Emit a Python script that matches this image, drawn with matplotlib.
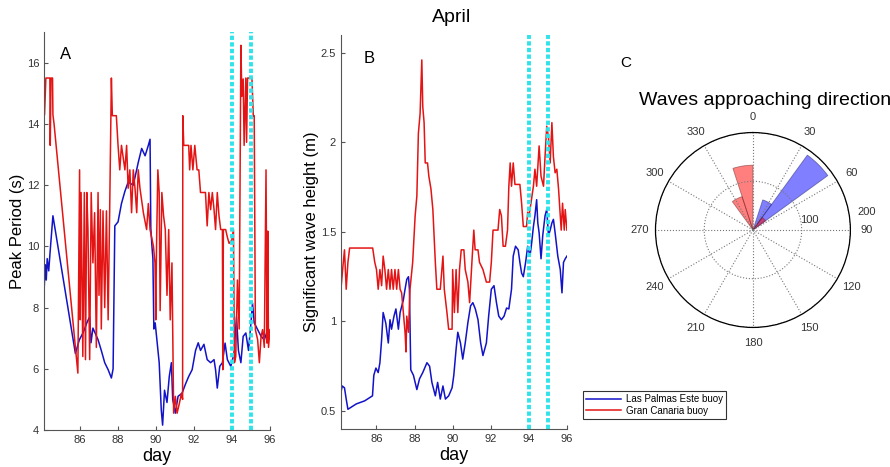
import numpy as np
import matplotlib
matplotlib.use("Agg")
import matplotlib.pyplot as plt

plt.rcParams['font.family'] = ['Liberation Sans', 'DejaVu Sans']

# ---- panel A: peak period (s) ----
tp_day_lp = [84.14, 84.2, 84.25, 84.3, 84.38, 84.45, 84.55, 84.6, 85.78, 85.99, 86.2, 86.38, 86.53, 86.6,
             86.7, 86.97, 87.14, 87.32, 87.5, 87.67, 87.76, 87.85, 88.02, 88.2, 88.38, 88.55, 88.82, 89.08,
             89.26, 89.44, 89.61, 89.7, 89.74, 89.8, 89.85, 89.9, 89.97, 90.18, 90.29, 90.36, 90.46, 90.59,
             90.71, 90.82, 90.89, 91.03, 91.17, 91.38, 91.56, 91.73, 91.91, 92.09, 92.23, 92.35, 92.53, 92.7,
             92.88, 93.06, 93.14, 93.23, 93.36, 93.5, 93.64, 93.76, 93.94, 94.11, 94.24, 94.34, 94.47, 94.59,
             94.73, 94.87, 95.0, 95.08, 95.17, 95.35, 95.53, 95.7, 95.88, 96.0]
tp_lp = [8.6, 9.4, 8.9, 9.6, 9.2, 9.8, 10.6, 11.0, 6.5, 6.95, 7.2, 7.5, 7.7, 6.85,
         7.33, 6.95, 6.6, 6.2, 5.97, 5.7, 6.0, 10.67, 10.8, 11.4, 11.8, 12.1, 12.0, 12.74,
         13.2, 12.96, 13.3, 13.5, 10.6, 10.0, 9.6, 7.3, 7.5, 6.2, 4.65, 4.16, 5.3, 4.9,
         5.75, 6.2, 5.0, 4.55, 5.1, 5.2, 5.5, 5.75, 5.97, 6.6, 6.85, 6.6, 6.8, 6.3,
         6.2, 6.3, 5.97, 5.37, 6.08, 6.2, 6.84, 6.3, 6.08, 6.5, 7.7, 6.6, 6.2, 7.06,
         7.17, 6.6, 7.5, 8.15, 7.5, 7.28, 7.06, 6.95, 7.28, 7.17]

tp_day_gc = [84.09, 84.1, 84.16, 84.23, 84.3, 84.44, 84.46, 84.5, 84.58, 84.6, 84.66, 85.91, 86.0, 86.03,
             86.08, 86.17, 86.25, 86.31, 86.38, 86.44, 86.53, 86.61, 86.7, 86.79, 86.88, 86.97, 87.02, 87.09,
             87.14, 87.23, 87.32, 87.41, 87.5, 87.58, 87.67, 87.72, 87.93, 88.02, 88.11, 88.2, 88.38, 88.47,
             88.55, 88.64, 88.73, 88.82, 88.91, 89.0, 89.08, 89.17, 89.35, 89.52, 89.61, 89.7, 89.88, 89.96,
             90.0, 90.04, 90.11, 90.18, 90.23, 90.32, 90.41, 90.5, 90.59, 90.68, 90.76, 90.85, 90.94, 91.03,
             91.12, 91.24, 91.35, 91.41, 91.42, 91.47, 91.73, 91.78, 91.85, 91.95, 92.05, 92.17, 92.26, 92.35,
             92.61, 92.7, 92.79, 92.88, 92.97, 93.06, 93.14, 93.23, 93.32, 93.41, 93.5, 93.52, 93.55, 93.67,
             93.76, 93.85, 93.99, 94.08, 94.13, 94.2, 94.29, 94.38, 94.47, 94.52, 94.59, 94.64, 94.73, 94.77,
             94.82, 95.05, 95.12, 95.17, 95.23, 95.35, 95.44, 95.53, 95.61, 95.7, 95.79, 95.84, 95.88, 95.92,
             96.0]
tp_gc = [8.4, 14.3, 14.3, 15.5, 15.5, 15.5, 13.3, 15.5, 15.5, 14.3, 14.0, 5.86, 12.5, 7.6,
         11.76, 6.4, 11.76, 6.3, 11.76, 10.55, 6.3, 11.76, 9.46, 11.1, 6.7, 11.76, 8.4, 11.2,
         7.3, 11.16, 8.0, 11.16, 7.6, 11.16, 15.5, 14.27, 14.27, 13.3, 12.5, 13.3, 12.5, 13.3,
         11.9, 12.5, 11.1, 12.5, 11.9, 11.1, 12.5, 11.9, 11.1, 10.55, 11.4, 10.55, 10.0, 9.46,
         7.6, 10.0, 12.5, 11.76, 7.9, 11.76, 11.0, 10.55, 8.4, 10.55, 7.6, 9.46, 4.55, 5.1,
         4.55, 4.87, 5.2, 5.0, 14.27, 13.3, 13.3, 12.5, 13.3, 12.5, 13.3, 12.5, 12.5, 11.76,
         11.76, 10.67, 11.76, 11.2, 11.76, 11.2, 10.55, 11.76, 11.0, 10.55, 10.55, 5.97, 10.55, 10.55,
         10.3, 10.1, 10.2, 10.55, 6.2, 6.4, 8.9, 7.3, 16.57, 14.9, 15.47, 13.3, 15.5, 13.4,
         15.5, 15.5, 14.27, 14.27, 7.28, 6.95, 6.2, 7.06, 7.28, 6.7, 12.5, 6.84, 10.5, 6.7,
         7.28]

# ---- panel B: significant wave height (m) ----
hs_day_lp = [84.1, 84.2, 84.32, 84.41, 84.5, 84.94, 85.38, 85.79, 85.86, 85.97, 86.09, 86.18, 86.27, 86.35,
             86.49, 86.62, 86.71, 86.79, 86.92, 87.02, 87.15, 87.24, 87.41, 87.5, 87.59, 87.68, 87.73, 87.8,
             87.94, 88.12, 88.26, 88.43, 88.65, 88.79, 88.91, 89.09, 89.21, 89.35, 89.49, 89.62, 89.79, 89.97,
             90.06, 90.18, 90.27, 90.41, 90.53, 90.66, 90.8, 90.94, 91.06, 91.19, 91.33, 91.47, 91.59, 91.77,
             91.89, 92.03, 92.17, 92.3, 92.42, 92.56, 92.7, 92.83, 92.95, 93.09, 93.18, 93.3, 93.44, 93.53,
             93.62, 93.71, 93.83, 93.94, 94.06, 94.15, 94.24, 94.32, 94.41, 94.47, 94.54, 94.64, 94.73, 94.85,
             94.94, 95.03, 95.12, 95.21, 95.29, 95.38, 95.52, 95.65, 95.74, 95.82, 95.91, 96.0]
hs_lp = [0.585, 0.64, 0.63, 0.567, 0.51, 0.54, 0.557, 0.585, 0.70, 0.74, 0.715, 0.77, 0.9, 1.05,
         0.99, 0.88, 1.01, 0.957, 1.03, 1.07, 0.957, 1.05, 1.12, 1.18, 1.235, 1.25, 1.18, 0.73,
         0.7, 0.62, 0.68, 0.715, 0.77, 0.75, 0.66, 0.585, 0.66, 0.567, 0.64, 0.567, 0.585, 0.63,
         0.7, 0.845, 0.94, 0.88, 0.79, 0.88, 0.994, 1.087, 1.105, 1.07, 1.01, 0.88, 0.81, 0.88,
         1.03, 1.18, 1.2, 1.105, 1.03, 1.01, 1.03, 1.075, 1.07, 1.18, 1.365, 1.42, 1.40, 1.33,
         1.27, 1.25, 1.33, 1.42, 1.365, 1.44, 1.53, 1.59, 1.68, 1.55, 1.495, 1.35, 1.48, 1.59,
         1.625, 1.48, 1.51, 1.55, 1.57, 1.495, 1.365, 1.29, 1.16, 1.33, 1.35, 1.365]

hs_day_gc = [84.1, 84.15, 84.24, 84.32, 84.41, 84.5, 84.59, 85.8, 85.91, 86.0, 86.09, 86.18, 86.27, 86.35,
             86.44, 86.53, 86.62, 86.71, 86.79, 86.88, 86.97, 87.06, 87.15, 87.24, 87.32, 87.41, 87.5, 87.55,
             87.59, 87.68, 87.76, 87.9, 88.03, 88.12, 88.2, 88.29, 88.38, 88.43, 88.5, 88.56, 88.68, 88.75,
             88.86, 88.96, 89.09, 89.17, 89.35, 89.49, 89.56, 89.7, 89.79, 89.97, 90.0, 90.09, 90.18, 90.27,
             90.36, 90.45, 90.59, 90.66, 90.8, 90.89, 91.01, 91.11, 91.18, 91.33, 91.41, 91.59, 91.77, 91.94,
             92.03, 92.12, 92.38, 92.47, 92.56, 92.65, 92.77, 92.88, 92.95, 93.02, 93.09, 93.18, 93.27, 93.53,
             93.62, 93.71, 93.88, 93.94, 94.01, 94.11, 94.24, 94.32, 94.41, 94.54, 94.64, 94.77, 94.85, 94.94,
             95.03, 95.12, 95.21, 95.29, 95.38, 95.47, 95.56, 95.65, 95.7, 95.77, 95.86, 95.91, 96.0]
hs_gc = [1.05, 1.2, 1.31, 1.40, 1.18, 1.33, 1.41, 1.41, 1.33, 1.29, 1.18, 1.29, 1.2, 1.365,
         1.29, 1.18, 1.29, 1.18, 1.29, 1.18, 1.29, 1.18, 1.29, 1.18, 1.16, 1.05, 0.94, 0.83,
         1.03, 0.94, 1.18, 1.33, 1.59, 1.7, 2.05, 2.16, 2.46, 2.2, 2.11, 1.885, 1.885, 1.81,
         1.74, 1.625, 1.33, 1.18, 1.18, 1.365, 1.18, 1.05, 0.957, 0.957, 1.29, 1.05, 1.29, 1.05,
         1.29, 1.40, 1.40, 1.29, 1.22, 1.105, 1.33, 1.51, 1.40, 1.40, 1.33, 1.29, 1.22, 1.22,
         1.33, 1.51, 1.51, 1.625, 1.59, 1.42, 1.42, 1.51, 1.755, 1.885, 1.755, 1.885, 1.765, 1.765,
         1.66, 1.53, 1.53, 1.61, 1.59, 1.66, 1.755, 1.85, 1.755, 1.98, 1.81, 1.755, 1.92, 2.09,
         2.03, 1.885, 2.11, 1.92, 1.83, 1.85, 1.74, 1.59, 1.51, 1.66, 1.51, 1.625, 1.51]

event_days = [94, 95]
day_ticks = [86, 88, 90, 92, 94, 96]
tp_ticks = [4, 6, 8, 10, 12, 14, 16]
hs_ticks = [0.5, 1, 1.5, 2, 2.5]
hs_ticklabels = ['0.5', '1', '1.5', '2', '2.5']

# ---- panel C: rose of approaching direction (18 deg bins) ----
rose_bin_start = [18, 36]
rose_count_lp = [65, 190]
rose_bin_start_gc = [324, 342, 36]
rose_count_gc = [72, 133, 32]
theta_labels = ['0', '30', '60', '90', '120', '150', '180', '210', '240', '270', '300', '330']

blue = '#1212c8'
red = '#e41414'
cyan = '#2fe3ea'

fig = plt.figure(figsize=(8.9, 4.67), dpi=100)

def ts_axes(rect, xd1, y1, xd2, y2, ylim, yt, ylab, letter, letterpos):
    ax = fig.add_axes(rect)
    l1, = ax.plot(xd1, y1, color=blue, lw=1.1)
    l2, = ax.plot(xd2, y2, color=red, lw=1.1)
    for d in event_days:
        ax.axvline(d, color=cyan, lw=2.8, linestyle=(0, (1.1, 0.6)))
    ax.set_xlim(84.13, 96)
    ax.set_ylim(*ylim)
    ax.set_xticks(day_ticks)
    ax.set_yticks(yt)
    ax.spines['top'].set_visible(False)
    ax.spines['right'].set_visible(False)
    ax.spines['left'].set_color('#555555')
    ax.spines['bottom'].set_color('#555555')
    ax.tick_params(direction='in', length=3, labelsize=8, labelcolor='#333333', color='#555555')
    ax.set_xlabel('day', fontsize=13, labelpad=2)
    ax.set_ylabel(ylab, fontsize=12, labelpad=1)
    ax.text(letterpos[0], letterpos[1], letter, transform=ax.transAxes, fontsize=12,
            ha='center', va='center')
    return ax, l1, l2

axA, h1, h2 = ts_axes([0.0494, 0.0792, 0.254, 0.852], tp_day_lp, tp_lp, tp_day_gc, tp_gc,
                      (4, 17), tp_ticks, 'Peak Period (s)', 'A', (0.097, 0.945))
axB, _, _ = ts_axes([0.383, 0.0814, 0.254, 0.844], hs_day_lp, hs_lp, hs_day_gc, hs_gc,
                    (0.4, 2.6), hs_ticks, 'Significant wave height (m)', 'B', (0.124, 0.939))
axB.set_yticklabels(hs_ticklabels)

fig.text(452 / 890, 1 - 18 / 467, 'April', fontsize=14, ha='center', va='center')

# polar rose
axC = fig.add_axes([0.7365, 0.2987, 0.219, 0.4176], projection='polar')
axC.set_theta_zero_location('N')
axC.set_theta_direction(-1)
axC.bar(np.deg2rad(rose_bin_start), rose_count_lp, width=np.deg2rad(18), align='edge',
        color='#0000ff', alpha=0.5, edgecolor='#202060', lw=0.6)
axC.bar(np.deg2rad(rose_bin_start_gc), rose_count_gc, width=np.deg2rad(18), align='edge',
        color='#ff0000', alpha=0.5, edgecolor='#602020', lw=0.6)
axC.set_ylim(0, 200)
axC.set_thetagrids(np.arange(0, 360, 30), theta_labels, fontsize=8, color='#333333')
axC.set_rgrids([100, 200], labels=['', ''])
axC.grid(True, linestyle=':', color='#777777', lw=0.8)
axC.spines['polar'].set_color('black')
axC.spines['polar'].set_linewidth(0.9)
axC.tick_params(pad=1)
axC.text(np.deg2rad(80), 118, '100', fontsize=8, color='#333333', ha='center', va='center')
axC.text(np.deg2rad(81), 236, '200', fontsize=8, color='#333333', ha='center', va='center')

fig.text(626 / 890, 1 - 63 / 467, 'C', fontsize=11, ha='center', va='center')
fig.text(765 / 890, 1 - 100 / 467, 'Waves approaching direction', fontsize=14, ha='center', va='center')

leg = fig.legend([h1, h2], ['Las Palmas Este buoy', 'Gran Canaria buoy'], loc='upper left',
                 bbox_to_anchor=(583 / 890, 1 - 391 / 467), fontsize=7, frameon=True, fancybox=False,
                 borderaxespad=0, handlelength=3.6, borderpad=0.3, labelspacing=0.2, handletextpad=0.5)
leg.get_frame().set_edgecolor('black')
leg.get_frame().set_linewidth(0.8)

fig.savefig('out.png', dpi=100)
